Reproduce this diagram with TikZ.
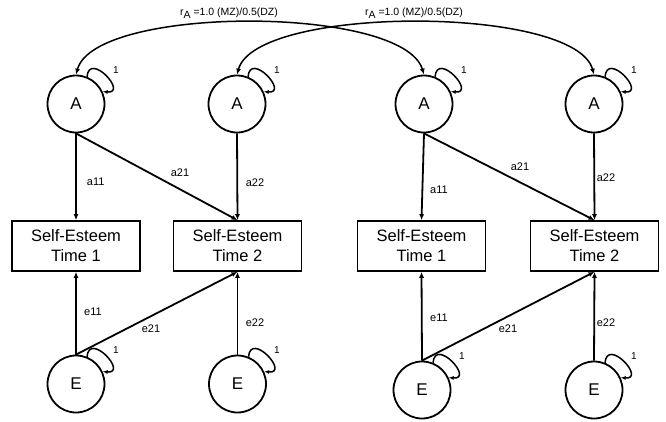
\documentclass[tikz,border=0pt]{standalone}
\usepackage{fontspec}
\setmainfont{Liberation Sans}
\usetikzlibrary{arrows.meta}

\tikzset{
  latent/.style={circle, draw, line width=1.8pt, minimum size=57pt, inner sep=0pt,
                 font=\fontsize{17}{20}\selectfont},
  measure/.style={rectangle, draw, line width=1.6pt, minimum width=128pt, minimum height=50pt,
                  align=center, inner sep=0pt, font=\fontsize{16.5}{20}\selectfont},
  path/.style={line width=1.8pt, -{Latex[length=6pt,width=5pt]}},
  cov/.style={line width=1.5pt, {Latex[length=6pt,width=5pt]}-{Latex[length=6pt,width=5pt]}},
  selfloop/.style={line width=1.5pt, -{Latex[length=5pt,width=4pt]}},
  coef/.style={font=\fontsize{11}{13}\selectfont, inner sep=0pt},
  one/.style={font=\fontsize{10}{12}\selectfont, inner sep=0pt},
  corr/.style={font=\fontsize{10.5}{12}\selectfont, inner sep=0pt},
}

\begin{document}
\begin{tikzpicture}[x=1pt, y=-1pt]
\useasboundingbox (0,0) rectangle (666,421);

% additive genetic factors
\node[latent] (a1) at (76,104)  {A};
\node[latent] (a2) at (237,104) {A};
\node[latent] (a3) at (424,104) {A};
\node[latent] (a4) at (594,104) {A};

% observed self-esteem scores
\node[measure] (s1) at (76,246)    {Self-Esteem\\Time 1};
\node[measure] (s2) at (237.5,246) {Self-Esteem\\Time 2};
\node[measure] (s3) at (421.5,246) {Self-Esteem\\Time 1};
\node[measure] (s4) at (594.5,246) {Self-Esteem\\Time 2};

% unique environmental factors
\node[latent] (e1) at (76,384)  {E};
\node[latent] (e2) at (237.5,384) {E};
\node[latent] (e3) at (422,390) {E};
\node[latent] (e4) at (594,390) {E};

% genetic paths
\draw[path] (a1.south) -- (s1.north);
\draw[path] (a1.south) -- (s2.north);
\draw[path] (a2.south) -- (s2.north);
\draw[path] (a3.south) -- (s3.north);
\draw[path] (a3.south) -- (s4.north);
\draw[path] (a4.south) -- (s4.north);

% environmental paths
\draw[path] (e1.north) -- (s1.south);
\draw[path] (e1.north) -- (s2.south);
\draw[path] (e2.north) -- (s2.south);
\draw[path] (e3.north) -- (s3.south);
\draw[path] (e3.north) -- (s4.south);
\draw[path] (e4.north) -- (s4.south);

% path coefficients
\node[coef] (la11) at (95.7,182) {a11};
\node[coef] (la21) at (180,173) {a21};
\node[coef] (la22) at (255,183) {a22};
\node[coef] (ra11) at (439,190) {a11};
\node[coef] (ra21) at (520,167) {a21};
\node[coef] (ra22) at (606,178) {a22};
\node[coef] (le11) at (93,312)  {e11};
\node[coef] (le21) at (151,329) {e21};
\node[coef] (le22) at (255,323) {e22};
\node[coef] (re11) at (439,318) {e11};
\node[coef] (re21) at (508,329) {e21};
\node[coef] (re22) at (606,323) {e22};

% unit variances
\foreach \n in {a1,a2,a3,a4,e1,e2,e3,e4}{
  \draw[selfloop] (\n.68) .. controls +(85:26pt) and +(-5:26pt) .. (\n.25);
}
\node[one] (va1) at (116,70)  {1};
\node[one] (va2) at (277,70)  {1};
\node[one] (va3) at (464,70)  {1};
\node[one] (va4) at (634,70)  {1};
\node[one] (ve1) at (116,350) {1};
\node[one] (ve2) at (277,350) {1};
\node[one] (ve3) at (462,356) {1};
\node[one] (ve4) at (634,356) {1};

% cross-twin genetic correlations
\draw[cov] (a1.north) .. controls (95,5) and (403,5) .. (a3.north);
\draw[cov] (a2.north) .. controls (256,5) and (575,5) .. (a4.north);
\node[corr] (r1) at (229,13) {r\raisebox{-3.5pt}{A} =1.0 (MZ)/0.5(DZ)};
\node[corr] (r2) at (414,13) {r\raisebox{-3.5pt}{A} =1.0 (MZ)/0.5(DZ)};
\end{tikzpicture}
\end{document}
